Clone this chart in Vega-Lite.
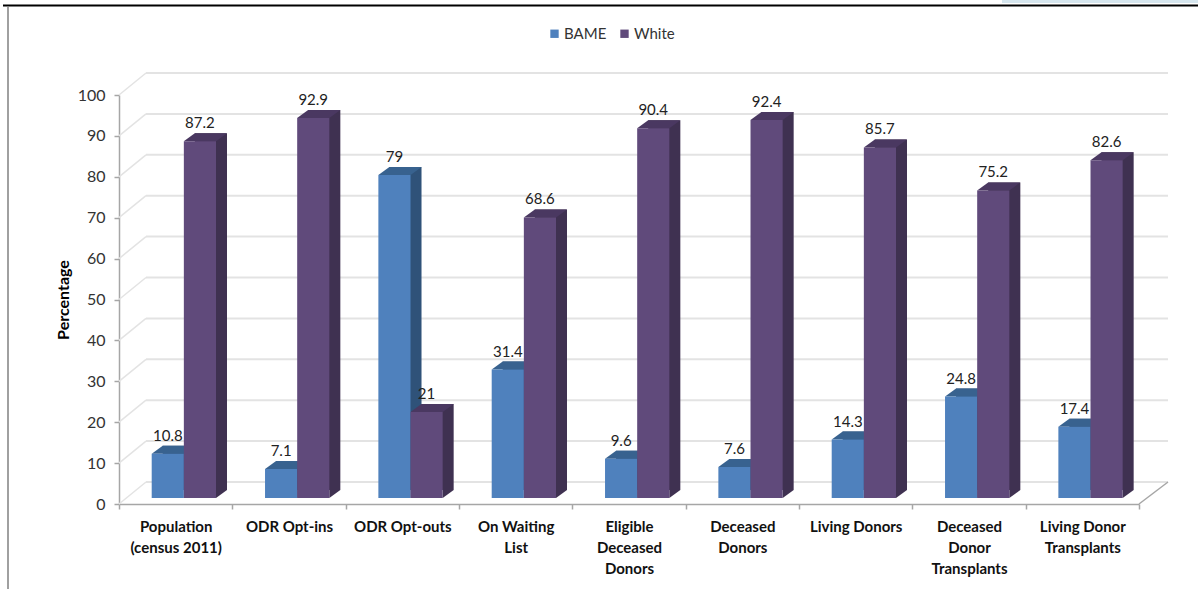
{
"$schema":"https://vega.github.io/schema/vega-lite/v6.json",
"width":1020,"height":409,
"autosize":{"type":"none"},
"padding":{"left":119,"top":95,"right":59,"bottom":85},
"background":"white",
"config":{"view":{"stroke":null},"font":"Lato"},
"resolve":{"scale":{"xOffset":"independent"}},
"datasets":{
"bars":[
{"cat":"Population\n(census 2011)","series":"BAME","v":10.8},{"cat":"Population\n(census 2011)","series":"White","v":87.2},
{"cat":"ODR Opt-ins","series":"BAME","v":7.1},{"cat":"ODR Opt-ins","series":"White","v":92.9},
{"cat":"ODR Opt-outs","series":"BAME","v":79},{"cat":"ODR Opt-outs","series":"White","v":21},
{"cat":"On Waiting\nList","series":"BAME","v":31.4},{"cat":"On Waiting\nList","series":"White","v":68.6},
{"cat":"Eligible\nDeceased\nDonors","series":"BAME","v":9.6},{"cat":"Eligible\nDeceased\nDonors","series":"White","v":90.4},
{"cat":"Deceased\nDonors","series":"BAME","v":7.6},{"cat":"Deceased\nDonors","series":"White","v":92.4},
{"cat":"Living Donors","series":"BAME","v":14.3},{"cat":"Living Donors","series":"White","v":85.7},
{"cat":"Deceased\nDonor\nTransplants","series":"BAME","v":24.8},{"cat":"Deceased\nDonor\nTransplants","series":"White","v":75.2},
{"cat":"Living Donor\nTransplants","series":"BAME","v":17.4},{"cat":"Living Donor\nTransplants","series":"White","v":82.6}
],
"ticks":[{"t":0},{"t":10},{"t":20},{"t":30},{"t":40},{"t":50},{"t":60},{"t":70},{"t":80},{"t":90},{"t":100}]
},
"layer":[
{"data":{"name":"ticks"},"mark":{"type":"point","shape":"M27,-22L1049,-22","size":4,"filled":false,"stroke":"#e3e3e3","strokeWidth":2,"opacity":1},
 "encoding":{"x":{"datum":"Population\n(census 2011)","bandPosition":0,"scale":{"domain":["Population\n(census 2011)","ODR Opt-ins","ODR Opt-outs","On Waiting\nList","Eligible\nDeceased\nDonors","Deceased\nDonors","Living Donors","Deceased\nDonor\nTransplants","Living Donor\nTransplants"],"paddingInner":0,"paddingOuter":0},
   "axis":{"title":null,"labelAngle":0,"labelAlign":"center","labelFontSize":15,"labelFontWeight":"bold","labelColor":"#111","labelPadding":10,"labelLimit":200,"labelLineHeight":21,"labelExpr":"split(datum.label,'\\n')","labelBaseline":"top","tickBand":"extent","tickExtra":true,"tickSize":5,"tickColor":"#a6a6a6","tickWidth":1.5,"domainColor":"#a6a6a6","domainWidth":1.5}},
  "y":{"field":"t","type":"quantitative","scale":{"domain":[0,100]},
  "axis":{"title":"Percentage","titleFontSize":16,"titleFontWeight":"bold","titleColor":"#000","titlePadding":6,
   "values":[0,10,20,30,40,50,60,70,80,90,100],"grid":false,"labelFontSize":16,"labelColor":"#333","labelPadding":9,"tickSize":5,"tickColor":"#a6a6a6","tickWidth":1.5,"domainColor":"#a6a6a6","domainWidth":1.5}}}},
{"data":{"name":"ticks"},"mark":{"type":"point","shape":"M0,0L27,-22","size":4,"filled":false,"stroke":"#e3e3e3","strokeWidth":1.5,"opacity":1},
 "encoding":{"x":{"datum":"Population\n(census 2011)","bandPosition":0},"y":{"field":"t","type":"quantitative"}}},
{"data":{"values":[{"t":0}]},"mark":{"type":"point","shape":"M0,0L29,-22","size":4,"filled":false,"stroke":"#a6a6a6","strokeWidth":1.5,"opacity":1},
 "encoding":{"x":{"datum":"Living Donor\nTransplants","bandPosition":1},"y":{"field":"t","type":"quantitative"}}},
{"data":{"values":[{"t":100}]},"mark":{"type":"point","shape":"M-116,-89.5L1079,-89.5","size":4,"filled":false,"stroke":"#000","strokeWidth":2,"opacity":1},
 "encoding":{"x":{"datum":"Population\n(census 2011)","bandPosition":0},"y":{"field":"t","type":"quantitative"}}},
{"data":{"values":[{"t":100}]},"mark":{"type":"point","shape":"M-111,-89L-111,494","size":4,"filled":false,"stroke":"#808080","strokeWidth":1.5,"opacity":1},
 "encoding":{"x":{"datum":"Population\n(census 2011)","bandPosition":0},"y":{"field":"t","type":"quantitative"}}},
{"data":{"values":[{"t":100}]},"mark":{"type":"point","shape":"M883,-95L1079,-95L1079,-92L883,-92Z","size":4,"filled":true,"fill":"#d6e6ee","opacity":1},
 "encoding":{"x":{"datum":"Population\n(census 2011)","bandPosition":0},"y":{"field":"t","type":"quantitative"}}},
{"data":{"name":"bars"},"mark":{"type":"bar","yOffset":-14,"y2Offset":-14},
 "encoding":{"x":{"field":"cat","type":"nominal"},
  "xOffset":{"field":"series","type":"nominal","scale":{"range":[43.7,108],"paddingInner":0,"paddingOuter":0}},
  "y":{"field":"v","type":"quantitative"},
  "fill":{"condition":{"test":"datum.series==='BAME'","value":"#2f5279"},"value":"#3f3151"}}},
{"data":{"name":"bars"},"mark":{"type":"point","shape":"M16.1,0L27.1,-8L16.1,-8Z","size":4,"filled":true,"opacity":1,"yOffset":-6},
 "encoding":{"x":{"field":"cat","type":"nominal"},"xOffset":{"field":"series","type":"nominal","scale":{"range":[48.8,80.9],"padding":0}},"y":{"datum":0,"type":"quantitative"},
  "fill":{"condition":{"test":"datum.series==='BAME'","value":"#2f5279"},"value":"#3f3151"}}},
{"data":{"name":"bars"},"mark":{"type":"point","shape":"M-16.1,0L16.1,0L27.1,-8L-5.1,-8Z","size":4,"filled":true,"opacity":1,"yOffset":-6},
 "encoding":{"x":{"field":"cat","type":"nominal"},"xOffset":{"field":"series","type":"nominal","scale":{"range":[48.8,80.9],"padding":0}},"y":{"field":"v","type":"quantitative"},
  "fill":{"condition":{"test":"datum.series==='BAME'","value":"#38628f"},"value":"#4a3861"}}},
{"data":{"name":"bars"},"mark":{"type":"bar","yOffset":-6,"y2Offset":-6},
 "encoding":{"x":{"field":"cat","type":"nominal"},"xOffset":{"field":"series","type":"nominal","scale":{"range":[32.7,97],"paddingInner":0,"paddingOuter":0}},"y":{"field":"v","type":"quantitative"},
  "color":{"field":"series","type":"nominal","scale":{"domain":["BAME","White"],"range":["#4f81bd","#604a7b"]},
   "legend":{"title":null,"orient":"none","legendX":428,"legendY":-69,"direction":"horizontal","symbolType":"square","symbolSize":70,"symbolStrokeWidth":0,"labelFontSize":15,"labelColor":"#333","columnPadding":10,"labelOffset":2}}}},
{"data":{"name":"bars"},"mark":{"type":"text","fontSize":15,"color":"#222","baseline":"middle","yOffset":-24},
 "encoding":{"x":{"field":"cat","type":"nominal"},"xOffset":{"field":"series","type":"nominal","scale":{"range":[48.8,80.9],"padding":0}},"y":{"field":"v","type":"quantitative"},"text":{"field":"v","type":"quantitative"}}}
]
}
